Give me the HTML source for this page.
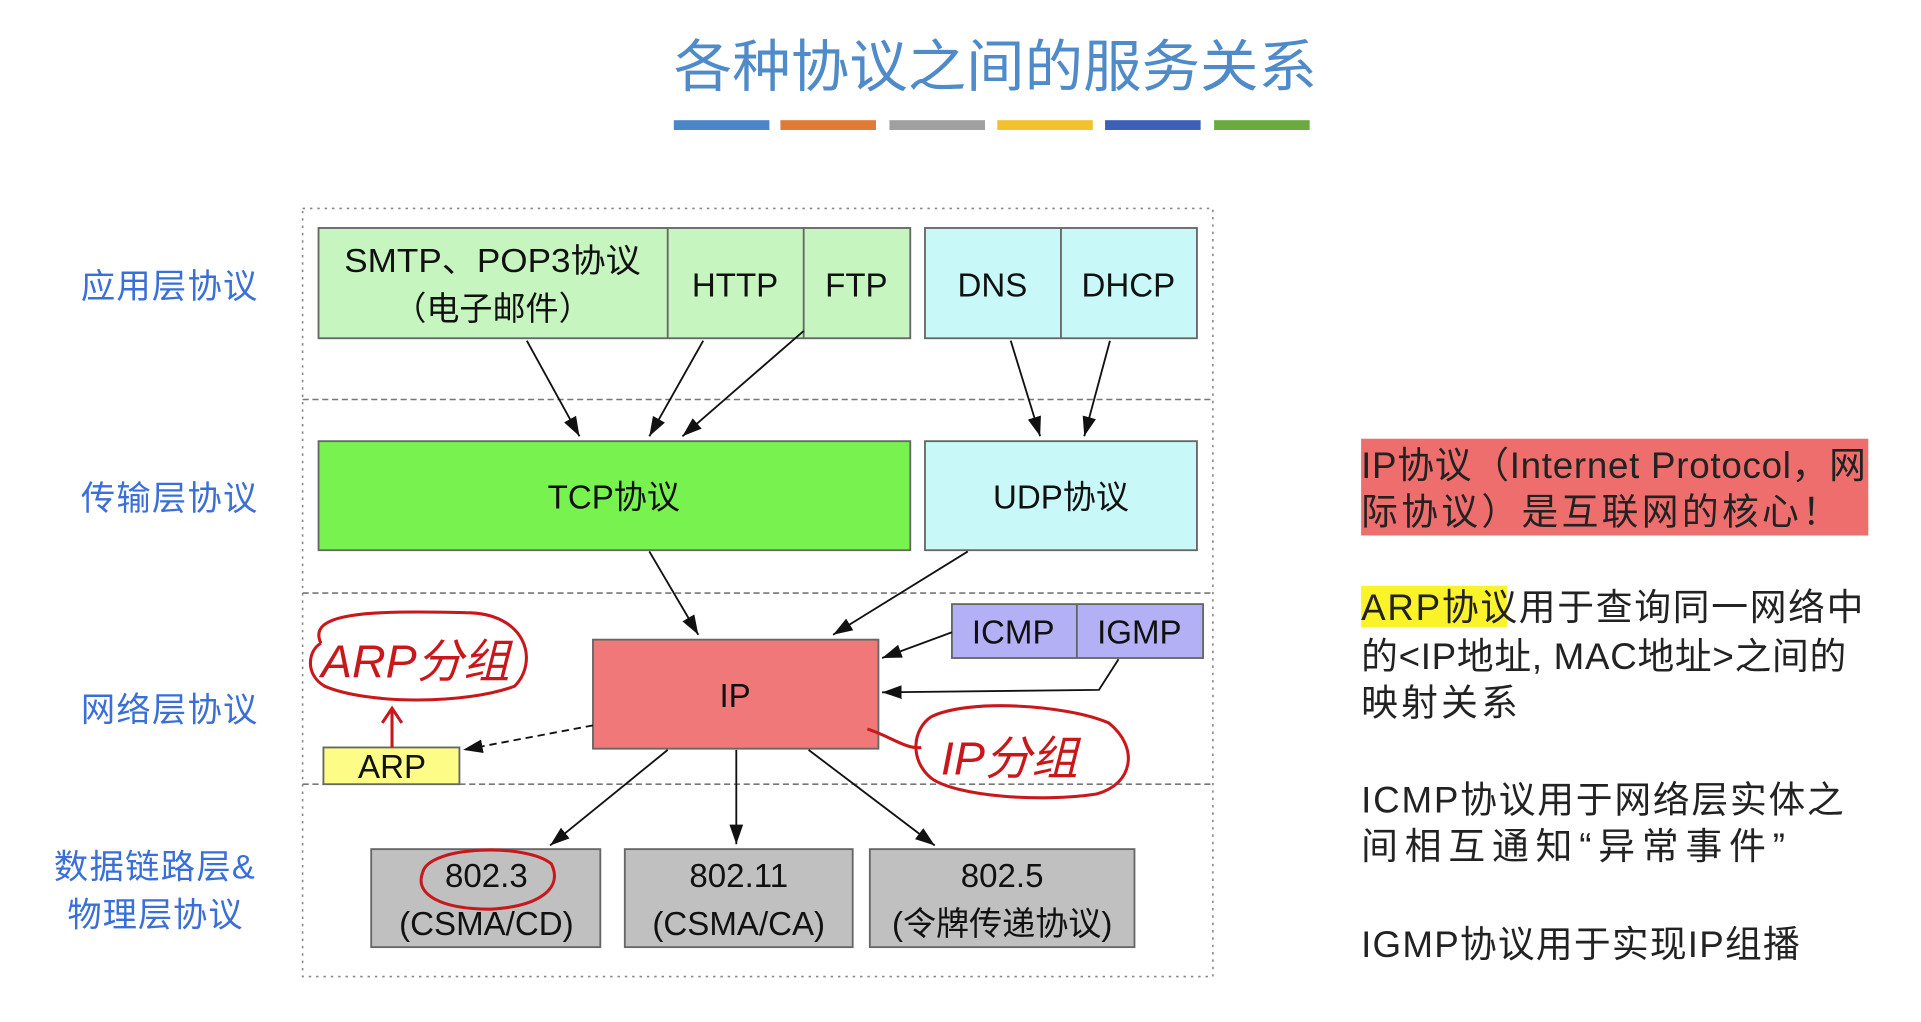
<!DOCTYPE html>
<html><head><meta charset="utf-8"><style>
html,body{margin:0;padding:0;background:#fff;}
svg{display:block;}
text{font-family:"Liberation Sans","Noto Sans CJK SC",sans-serif;}
</style></head><body>
<svg width="1921" height="1022" viewBox="0 0 1568 834" xmlns="http://www.w3.org/2000/svg">
<defs>
<marker id="b" viewBox="0 0 10 10" refX="10" refY="5" markerWidth="16" markerHeight="16" orient="auto" markerUnits="userSpaceOnUse"><path d="M0,1.5 L10,5 L0,8.5 z" fill="#111"/></marker>
</defs>
<rect width="1568" height="834" fill="#fff"/>
<text x="550" y="70" font-size="46" fill="#4f8ac9" textLength="525" lengthAdjust="spacingAndGlyphs">各种协议之间的服务关系</text>
<rect x="550" y="98" width="78" height="8" fill="#4a86c8"/>
<rect x="637" y="98" width="78" height="8" fill="#e07a35"/>
<rect x="726" y="98" width="78" height="8" fill="#a0a0a0"/>
<rect x="814" y="98" width="78" height="8" fill="#f2c12e"/>
<rect x="902" y="98" width="78" height="8" fill="#3d5fb8"/>
<rect x="991" y="98" width="78" height="8" fill="#6aaa3e"/>

<rect x="247" y="170" width="743" height="627" fill="none" stroke="#888" stroke-width="1.3" stroke-dasharray="2,4"/>
<g stroke="#777" stroke-width="1.3" stroke-dasharray="5,3">
<line x1="247" y1="326" x2="990" y2="326"/><line x1="247" y1="484" x2="990" y2="484"/><line x1="247" y1="640" x2="990" y2="640"/></g>

<g font-size="28" fill="#3a6fd8" lengthAdjust="spacingAndGlyphs">
<text x="66" y="243" textLength="144">应用层协议</text><text x="66" y="416" textLength="144">传输层协议</text><text x="66" y="589" textLength="144">网络层协议</text>
<text x="44" y="717" textLength="164">数据链路层&amp;</text><text x="55" y="756" textLength="143">物理层协议</text></g>

<g stroke="#666" stroke-width="1.5">
<rect x="260" y="186" width="483" height="90" fill="#c6f5c0"/>
<line x1="545" y1="186" x2="545" y2="276"/><line x1="656" y1="186" x2="656" y2="276"/>
<rect x="755" y="186" width="222" height="90" fill="#c8f8f8"/>
<line x1="866" y1="186" x2="866" y2="276"/>
<rect x="260" y="360" width="483" height="89" fill="#77f24e"/>
<rect x="755" y="360" width="222" height="89" fill="#c8f8f8"/>
<rect x="484" y="522" width="233" height="89" fill="#f07878"/>
<rect x="777" y="493" width="205" height="44" fill="#b3b0f5"/>
<line x1="879" y1="493" x2="879" y2="537"/>
<rect x="264" y="610" width="111" height="30" fill="#fdfc86"/>
<rect x="303" y="693" width="187" height="80" fill="#c0c0c0"/>
<rect x="510" y="693" width="186" height="80" fill="#c0c0c0"/>
<rect x="710" y="693" width="216" height="80" fill="#c0c0c0"/>
</g>

<g font-size="27" fill="#111" text-anchor="middle">
<text x="402" y="222" textLength="242" lengthAdjust="spacingAndGlyphs">SMTP、POP3协议</text><text x="402" y="261">（电子邮件）</text>
<text x="600" y="242">HTTP</text><text x="699" y="242">FTP</text>
<text x="810" y="242">DNS</text><text x="921" y="242">DHCP</text>
<text x="501" y="415">TCP协议</text><text x="866" y="415">UDP协议</text>
<text x="600" y="577">IP</text>
<text x="827" y="525">ICMP</text><text x="930" y="525">IGMP</text>
<text x="320" y="635">ARP</text>
<text x="397" y="724">802.3</text><text x="397" y="763">(CSMA/CD)</text>
<text x="603" y="724">802.11</text><text x="603" y="763">(CSMA/CA)</text>
<text x="818" y="724">802.5</text><text x="818" y="763">(令牌传递协议)</text>
</g>

<g stroke="#111" stroke-width="1.5" fill="none" marker-end="url(#b)">
<line x1="430" y1="278" x2="473" y2="356"/>
<line x1="574" y1="278" x2="530" y2="356"/>
<line x1="656" y1="270" x2="557" y2="356"/>
<line x1="825" y1="278" x2="849" y2="356"/>
<line x1="906" y1="278" x2="885" y2="356"/>
<line x1="530" y1="450" x2="570" y2="518"/>
<line x1="790" y1="450" x2="680" y2="518"/>
<line x1="777" y1="516" x2="720" y2="537"/>
<polyline points="913,538 897,563 720,565"/>
<line x1="484" y1="592" x2="378" y2="612" stroke-dasharray="6,4"/>
<line x1="545" y1="612" x2="449" y2="690"/>
<line x1="601" y1="612" x2="601" y2="689"/>
<line x1="660" y1="612" x2="763" y2="690"/>
</g>

<g stroke="#c8181c" stroke-width="2.5" fill="none">
<path d="M262,525 C250,500 300,498 380,500 C430,500 440,540 420,560 C380,575 300,575 265,560 C248,550 252,530 262,525"/>
<path d="M320,610 L320,580 M312,590 L320,578 L328,590"/>
<path d="M708,595 C725,600 740,612 752,610"/>
<path d="M760,585 C790,570 870,575 905,590 C930,610 925,640 895,648 C850,655 780,650 760,635 C742,620 745,595 760,585"/>
<path d="M345,712 C350,690 430,688 450,705 C460,725 440,740 400,742 C360,742 338,730 345,712"/>
</g>
<g font-family="'Liberation Serif','Noto Serif CJK SC',serif" font-style="italic" fill="#c8181c" font-size="38">
<text x="262" y="553">ARP分组</text>
<text x="768" y="632">IP分组</text>
</g>

<rect x="1111" y="358" width="414" height="79" fill="#ee6e6e"/>
<rect x="1111" y="478" width="119" height="34" fill="#fbf32a"/>
<g font-size="30" fill="#222" lengthAdjust="spacingAndGlyphs">
<text x="1111" y="390" textLength="412">IP协议（Internet Protocol，网</text>
<text x="1111" y="428" textLength="390">际协议）是互联网的核心！</text>
<text x="1111" y="506" textLength="410">ARP协议用于查询同一网络中</text>
<text x="1111" y="546" textLength="396">的&lt;IP地址, MAC地址&gt;之间的</text>
<text x="1111" y="584" textLength="128">映射关系</text>
<text x="1111" y="663" textLength="394">ICMP协议用于网络层实体之</text>
<text x="1111" y="701" textLength="346">间相互通知“异常事件”</text>
<text x="1111" y="781" textLength="358">IGMP协议用于实现IP组播</text>
</g>
</svg>
</body></html>
